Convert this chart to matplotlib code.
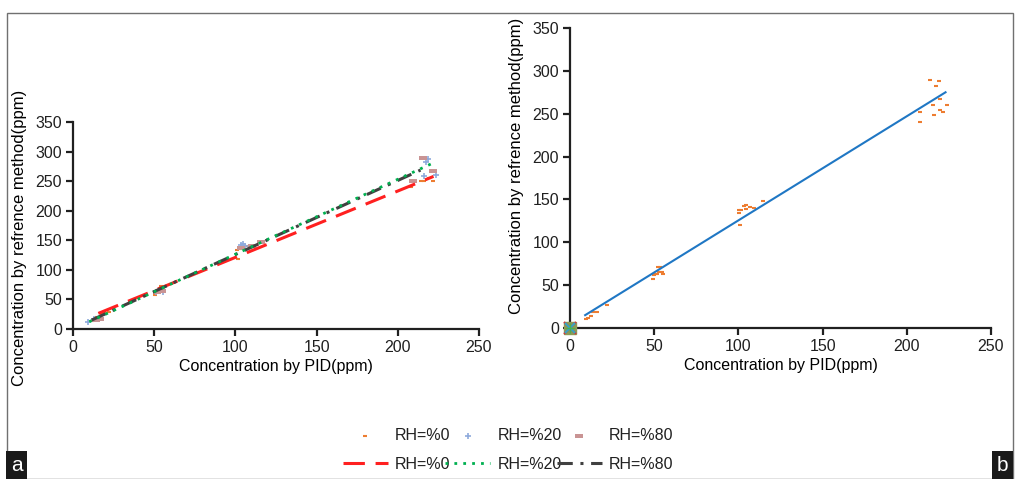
import numpy as np
import matplotlib.pyplot as plt
from matplotlib.patches import Rectangle

plt.rcParams['font.family'] = ['Liberation Sans', 'DejaVu Sans']

# panel a: measured points for each humidity
rh0_x = [12, 15, 18, 20, 22, 50.5, 52, 53.6, 54, 101.2, 101.4, 103, 104, 107, 207.9, 214, 216, 219, 221.9]
rh0_y = [14, 20, 26, 26.4, 29, 57, 66, 69, 72, 133, 119, 135, 138, 140, 239.6, 250, 249.6, 255, 250.7]
rh20_x = [9.4, 13, 51, 53, 55.6, 103.5, 104.5, 106, 216, 217.4, 218.8, 223.5]
rh20_y = [11.3, 17, 62, 66, 62.8, 142.6, 144, 141, 259, 283, 287, 259.7]
rh80_x = [14, 16.5, 52, 54.5, 103.4, 110.4, 116, 209.6, 215.3, 221.5]
rh80_y = [15, 17, 62.8, 64, 137.5, 139.7, 147, 250.7, 289, 266.5]

# panel a: trend lines (end points)
line0_x, line0_y = [15.6, 222], [26.4, 258]
line20_x, line20_y = [10, 221.5], [12.3, 280.4]
line80_x, line80_y = [11.5, 214], [15.1, 268.7]

# panel b: all points and the fitted line
b_x = [9.5, 10.5, 12.3, 13.9, 15.8, 21.8,
       49.5, 50.1, 50.9, 51.4, 52, 53.4, 53, 54.4, 55.4,
       100.2, 100.6, 101.7, 100.8, 103.3, 104.5, 104.3, 106.9, 109.3, 114.8,
       207.8, 207.8, 213.8, 217.3, 218.9, 219.7, 215.8, 216.2, 219.7, 221.7, 223.7]
b_y = [10.9, 11.7, 14, 18.3, 19, 26.4,
       57, 61.8, 63, 63.4, 71.6, 71.6, 65.7, 65, 62.6,
       134.2, 138, 138, 119.8, 142, 143.5, 138.9, 140.8, 139.6, 148.6,
       251.6, 240, 289.8, 282.8, 288.2, 267.2, 259.8, 248.9, 254, 251.6, 259.8]
fit_x, fit_y = [9, 223], [15, 275]

ticks_x = [0, 50, 100, 150, 200, 250]
ticks_y = [0, 50, 100, 150, 200, 250, 300, 350]

orange = '#ED7D31'
blue = '#8FAADC'
pink = '#C99494'
rect = [(-2.2, -1), (2.2, -1), (2.2, 1), (-2.2, 1), (-2.2, -1)]

W, H = 1016, 479
fig = plt.figure(figsize=(W / 100, H / 100), dpi=100)

def style(ax):
    ax.spines['top'].set_visible(False)
    ax.spines['right'].set_visible(False)
    for s in ('left', 'bottom'):
        ax.spines[s].set_linewidth(1.6)
        ax.spines[s].set_color('#202020')
    ax.tick_params(width=1.6, length=5, labelsize=11.5, colors='#202020', pad=3)
    ax.set_xlim(0, 250)
    ax.set_ylim(0, 350)
    ax.set_xticks(ticks_x)
    ax.set_yticks(ticks_y)
    ax.set_xlabel('Concentration by PID(ppm)', fontsize=11.5, labelpad=3)
    ax.set_ylabel('Concentration by refrence method(ppm)', fontsize=12)

ax1 = fig.add_axes([73 / W, 1 - 329 / H, 406 / W, 207 / H])
style(ax1)
ax1.yaxis.set_label_coords(-46 / 406, 0.44)
s0 = ax1.scatter(rh0_x, rh0_y, marker='_', s=12, color=orange, linewidths=1.5)
s20 = ax1.scatter(rh20_x, rh20_y, marker='+', s=14, color=blue, linewidths=1.2)
s80 = ax1.scatter(rh80_x, rh80_y, marker=rect, s=40, color=pink, linewidths=0)
l0, = ax1.plot(line0_x, line0_y, color='#FF2020', lw=2.2, dashes=(7, 3.5))
l80, = ax1.plot(line80_x, line80_y, color='#404040', lw=2.2, dashes=(5, 2.5, 1, 2.5))
l20, = ax1.plot(line20_x, line20_y, color='#00B050', lw=2.0, dashes=(1, 2.2))

ax2 = fig.add_axes([570 / W, 1 - 328 / H, 421 / W, 300 / H])
style(ax2)
ax2.yaxis.set_label_coords(-46 / 421, 0.54)
ax2.scatter(b_x, b_y, marker='_', s=8, color=orange, linewidths=1.5)
ax2.plot(fit_x, fit_y, color='#1F77C4', lw=1.5)
ax2.plot([0], [0], marker='s', ms=9, color='#8E9A55', clip_on=False, zorder=5)
ax2.plot([0], [0], marker='x', ms=9, mew=1.5, color='#D03A3A', clip_on=False, zorder=6)
ax2.plot([0], [0], marker='x', ms=7, mew=1.5, color='#35A7C8', clip_on=False, zorder=7)
ax2.plot([0], [0], marker='+', ms=7, mew=1, color='#4CAF50', clip_on=False, zorder=8)

handles = [s0, l0, s20, l20, s80, l80]
labels = ['RH=%0', 'RH=%0', 'RH=%20', 'RH=%20', 'RH=%80', 'RH=%80']
fig.legend(handles, labels, ncol=3, loc='center', bbox_to_anchor=(0.5, 1 - 450 / H),
           frameon=False, fontsize=11.5, handlelength=2.8, handletextpad=0.45,
           columnspacing=-0.3, labelspacing=0.85, scatterpoints=1, labelcolor='#202020')

# frame and panel tags
fig.add_artist(Rectangle((7 / W, 0), 1006 / W, 466 / H, transform=fig.transFigure,
                         fill=False, edgecolor='#707070', lw=1))
fig.text(11 / W, 4 / H, 'a', color='white', fontsize=15, ha='left', va='bottom',
         bbox=dict(facecolor='#1a1a1a', edgecolor='none', pad=3.5))
fig.text(997 / W, 4 / H, 'b', color='white', fontsize=15, ha='left', va='bottom',
         bbox=dict(facecolor='#1a1a1a', edgecolor='none', pad=3.5))

fig.savefig('out.png', dpi=100)
